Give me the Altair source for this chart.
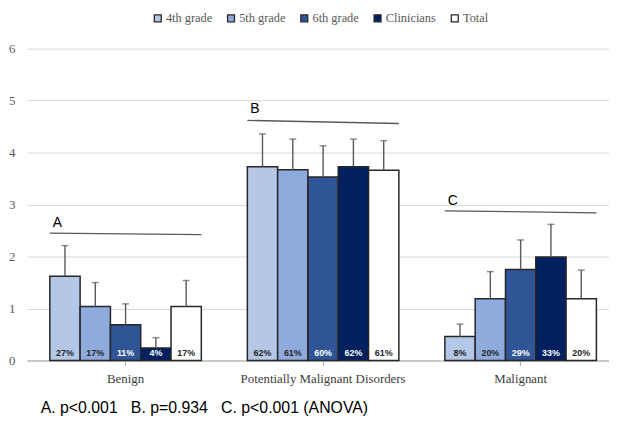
import altair as alt
import pandas as pd

categories = ["Benign", "Potentially Malignant Disorders", "Malignant"]
series = ["4th grade", "5th grade", "6th grade", "Clinicians", "Total"]
colors = ["#B4C7E7", "#8FAADC", "#2F5597", "#002060", "#FFFFFF"]

means = {
    "4th grade": [1.62, 3.73, 0.46],
    "5th grade": [1.04, 3.67, 1.19],
    "6th grade": [0.69, 3.53, 1.75],
    "Clinicians": [0.24, 3.73, 1.99],
    "Total": [1.04, 3.66, 1.19],
}
sds = {
    "4th grade": [0.59, 0.63, 0.24],
    "5th grade": [0.46, 0.59, 0.52],
    "6th grade": [0.40, 0.60, 0.57],
    "Clinicians": [0.20, 0.53, 0.63],
    "Total": [0.50, 0.57, 0.55],
}
pcts = {
    "4th grade": ["27%", "62%", "8%"],
    "5th grade": ["17%", "61%", "20%"],
    "6th grade": ["11%", "60%", "29%"],
    "Clinicians": ["4%", "62%", "33%"],
    "Total": ["17%", "61%", "20%"],
}
sig_labels = ["A", "B", "C"]
sig_line_start = [2.45, 4.62, 2.88]
sig_line_end = [2.42, 4.56, 2.84]
sig_label_y = [2.65, 4.84, 3.07]
footnote = "A. p<0.001\u00a0\u00a0\u00a0B. p=0.934\u00a0\u00a0\u00a0C. p<0.001 (ANOVA)"

rows = []
for s in series:
    for i, c in enumerate(categories):
        rows.append({"cat": c, "series": s, "mean": means[s][i],
                     "top": means[s][i] + sds[s][i], "pct": pcts[s][i]})
df = pd.DataFrame(rows)
sig = pd.DataFrame({"cat": categories, "label": sig_labels, "y1": sig_line_start,
                    "y2": sig_line_end, "ly": sig_label_y})

xscale = alt.Scale(domain=categories, range=[0, 598.5], paddingInner=0.233, paddingOuter=0.1165)
yscale = alt.Scale(domain=[0, 6])
x = alt.X("cat:N", sort=categories, scale=xscale,
          axis=alt.Axis(title=None, labelAngle=0, labelFont="Liberation Serif", labelFontSize=13,
                        labelColor="#404040", domainColor="#A6A6A6", tickColor="#A6A6A6",
                        tickSize=5, labelPadding=7, grid=False))
xoff = alt.XOffset("series:N", sort=series, scale=alt.Scale(domain=series))
y = alt.Y("mean:Q", scale=yscale,
          axis=alt.Axis(title=None, values=[0, 1, 2, 3, 4, 5, 6], labelFont="Liberation Serif",
                        labelFontSize=13, labelColor="#595959", domain=False, ticks=False,
                        labelPadding=12, gridColor="#D9D9D9", gridWidth=1))

base = alt.Chart(df)

bars = base.mark_bar(stroke="#262626", strokeWidth=1.5).encode(
    x=x, xOffset=xoff, y=y,
    color=alt.Color("series:N", sort=series, scale=alt.Scale(domain=series, range=colors),
                    legend=alt.Legend(title=None, orient="none", direction="horizontal", columns=5,
                                      legendX=126, legendY=-37, symbolType="square", symbolSize=49,
                                      symbolStrokeColor="#262626", symbolStrokeWidth=1.3,
                                      labelFont="Liberation Serif", labelFontSize=12.5,
                                      labelColor="#595959", columnPadding=12, labelOffset=2)),
)

err = base.mark_rule(color="#595959", strokeWidth=1.4).encode(
    x=x, xOffset=xoff, y=alt.Y("mean:Q", scale=yscale), y2="top:Q")
caps = base.mark_tick(color="#595959", thickness=1.4, size=7).encode(
    x=x, xOffset=xoff, y=alt.Y("top:Q", scale=yscale))

labels = base.mark_text(font="Liberation Sans", fontSize=9, fontWeight="bold",
                        baseline="bottom", dy=-3).encode(
    x=x, xOffset=xoff, y=alt.datum(0, scale=yscale), text="pct:N",
    color=alt.condition("datum.series === '6th grade' || datum.series === 'Clinicians'",
                        alt.value("#FFFFFF"), alt.value("#262626")),
)

sbase = alt.Chart(sig)
siglines = sbase.mark_rule(color="#595959", strokeWidth=1.3).encode(
    x=alt.X("cat:N", sort=categories, scale=xscale, bandPosition=0),
    x2=alt.X2("cat", bandPosition=1),
    y=alt.Y("y1:Q", scale=yscale), y2="y2:Q")
siglabels = sbase.mark_text(font="Liberation Sans", fontSize=14, align="left", dx=3,
                            color="black").encode(
    x=alt.X("cat:N", sort=categories, scale=xscale, bandPosition=0),
    y=alt.Y("ly:Q", scale=yscale), text="label:N")

chart = alt.layer(bars, err, caps, labels, siglines, siglabels).properties(
    width=588, height=315,
    autosize=alt.AutoSizeParams(type="none"),
    padding={"left": 19, "top": 39, "right": 0, "bottom": 55},
    title=alt.TitleParams(text=footnote, orient="bottom", anchor="start", frame="group",
                          font="Liberation Sans", fontSize=16, fontWeight="normal",
                          color="black", offset=15, dx=14),
).configure_view(stroke=None)

chart.save("out.html", embed_options={"renderer": "svg", "actions": False})
